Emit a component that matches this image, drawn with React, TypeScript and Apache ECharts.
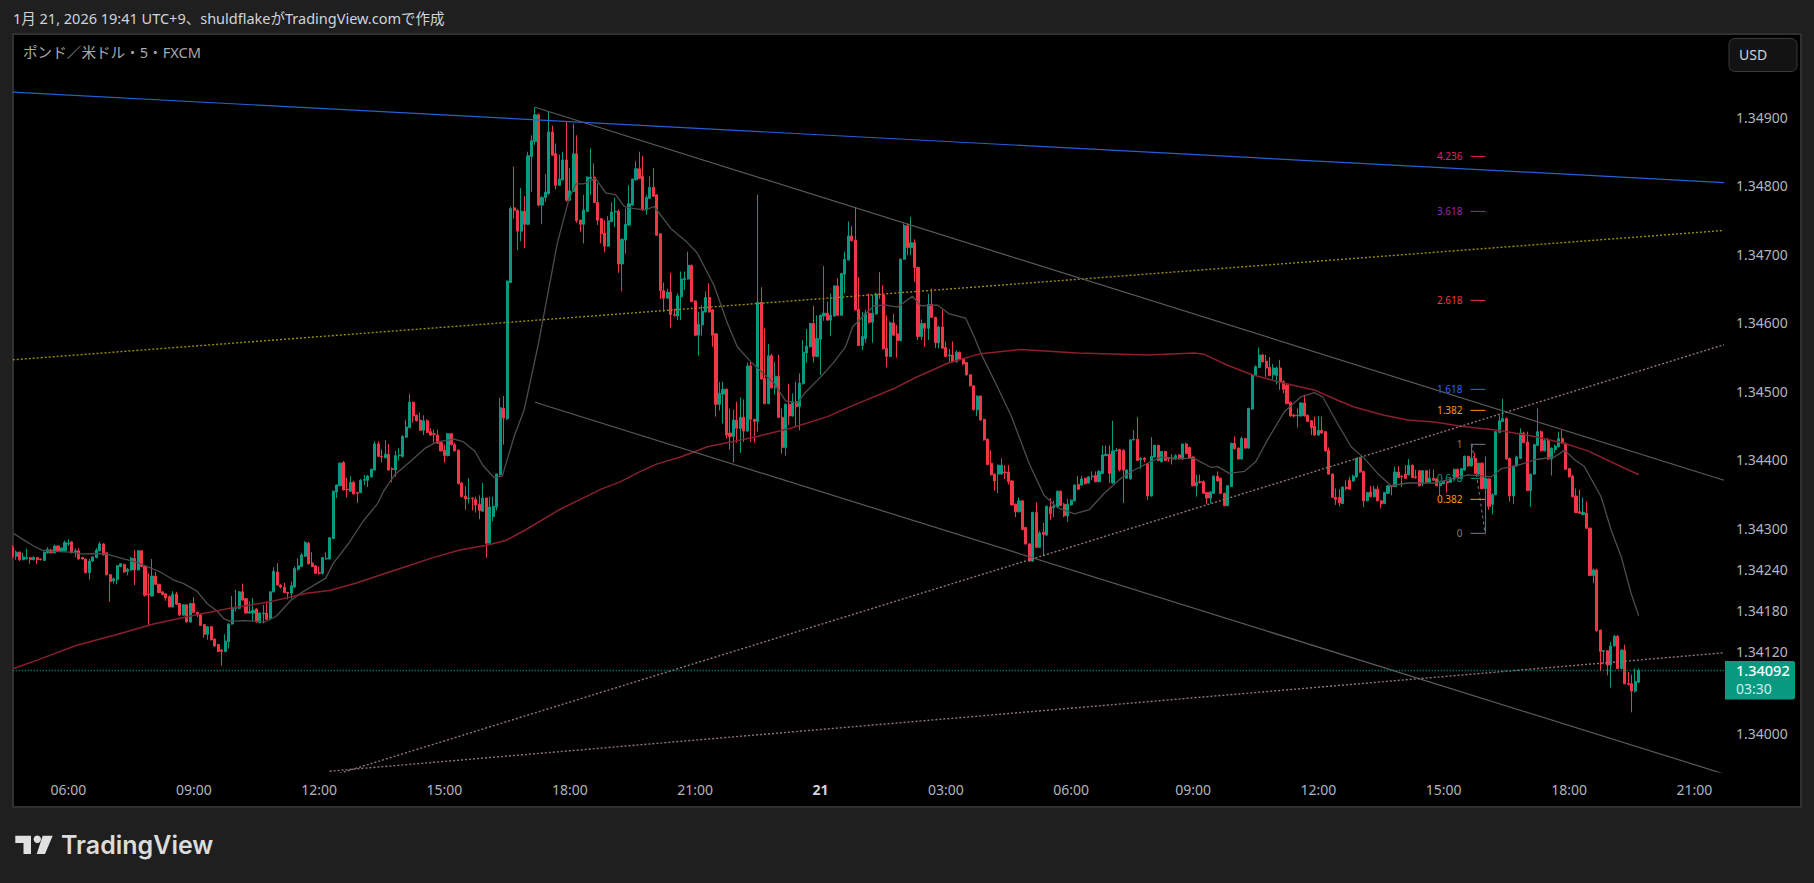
import React, { useEffect, useRef } from "react";
import * as echarts from "echarts";

// All price values are written as v, where price = 1 + v / 100000 (34092 = 1.34092).
// Candle rows: [open, close, low, high]
const ohlcEarly = [
[34272,34259,34256,34275],[34259,34265,34254,34267],[34265,34254,34252,34266],[34254,34258,34253,34264],[34255,34257,34255,34270],
[34257,34254,34248,34258],[34254,34257,34253,34259],[34257,34254,34248,34258],[34255,34254,34253,34256],[34253,34265,34252,34266],
[34264,34269,34263,34272],[34268,34264,34263,34270],[34264,34274,34263,34276],[34274,34267,34266,34275],[34266,34271,34265,34272],
[34267,34279,34265,34282],[34277,34278,34274,34284],[34280,34264,34263,34281],[34265,34267,34258,34270],[34267,34255,34254,34271],
[34257,34255,34254,34258],[34255,34235,34234,34256],[34235,34252,34225,34255],[34252,34258,34251,34259],[34257,34268,34256,34271],
[34267,34277,34266,34280],[34277,34261,34260,34278],[34264,34232,34231,34265],[34232,34222,34193,34233],[34223,34226,34219,34228],
[34225,34245,34218,34246],[34244,34248,34243,34249],[34247,34236,34235,34248],[34237,34240,34231,34242],[34239,34256,34238,34258],
[34256,34239,34217,34268],[34239,34267,34238,34268],[34267,34244,34243,34268],[34244,34202,34200,34245],[34204,34203,34157,34234],
[34201,34230,34200,34255],[34230,34218,34217,34236],[34218,34206,34205,34219],[34207,34203,34202,34208],[34204,34198,34194,34205],
[34200,34185,34184,34202],[34185,34203,34184,34208],[34204,34189,34188,34207],[34190,34173,34172,34191],[34173,34188,34172,34189],
[34188,34163,34162,34189],[34163,34190,34162,34191],[34190,34177,34176,34199],[34177,34173,34170,34178],[34174,34158,34157,34175],
[34159,34145,34140,34160],[34145,34156,34137,34157],[34156,34137,34136,34157],[34138,34128,34127,34139],[34130,34120,34119,34131],
[34122,34120,34099,34123],[34120,34135,34119,34145],[34134,34160,34124,34161],[34160,34183,34159,34201],[34183,34184,34178,34210],
[34183,34207,34182,34208],[34207,34195,34194,34219],[34197,34176,34175,34198],[34176,34178,34175,34193],[34176,34180,34164,34198],
[34182,34163,34162,34183],[34162,34176,34161,34177],[34175,34176,34161,34188],[34176,34167,34166,34193],[34168,34207,34166,34208],
];
const ohlcRally = [
[34207,34237,34206,34243],[34236,34217,34216,34249],[34217,34214,34212,34218],[34214,34206,34205,34220],[34206,34205,34196,34207],
[34205,34216,34197,34222],[34214,34241,34213,34244],[34240,34245,34238,34256],[34244,34261,34243,34264],[34259,34279,34258,34281],
[34278,34248,34247,34280],[34249,34244,34243,34265],[34245,34234,34233,34246],[34235,34234,34232,34244],[34234,34257,34232,34258],
[34255,34256,34254,34265],[34255,34286,34254,34287],[34285,34354,34284,34355],[34353,34363,34344,34364],[34362,34395,34361,34396],
[34396,34356,34355,34398],[34357,34356,34345,34374],[34354,34367,34353,34376],[34367,34350,34349,34369],[34352,34351,34337,34353],
[34352,34370,34351,34372],[34370,34371,34363,34378],[34370,34376,34360,34378],[34375,34386,34374,34387],[34385,34423,34384,34427],
[34423,34405,34404,34427],[34405,34404,34396,34415],[34403,34408,34402,34429],[34408,34385,34384,34423],[34387,34386,34367,34389],
[34385,34406,34375,34413],[34406,34407,34399,34417],[34405,34434,34403,34436],[34433,34448,34432,34458],[34447,34484,34446,34496],
[34484,34464,34454,34485],[34465,34457,34456,34466],[34458,34443,34442,34469],[34443,34457,34436,34465],[34457,34440,34439,34459],
[34441,34436,34435,34446],[34438,34437,34425,34444],[34436,34424,34423,34444],[34425,34413,34412,34426],[34414,34406,34396,34422],
[34406,34438,34405,34439],[34438,34422,34421,34439],[34422,34413,34412,34425],[34414,34365,34364,34415],[34366,34346,34345,34367],
[34347,34343,34327,34361],[34343,34344,34336,34373],[34344,34343,34326,34345],[34342,34334,34323,34346],[34335,34326,34313,34348],
[34325,34344,34324,34366],[34344,34278,34257,34345],[34278,34331,34275,34346],[34317,34332,34310,34346],[34331,34379,34326,34380],
[34378,34476,34377,34490],[34475,34461,34422,34493],[34460,34661,34458,34662],[34659,34767,34658,34770],
];
const ohlcPeak = [
[34768,34764,34752,34828],[34764,34734,34706,34766],[34734,34763,34719,34797],[34763,34744,34709,34785],[34744,34844,34743,34850],
[34843,34866,34791,34874],[34865,34904,34860,34915],[34904,34772,34770,34906],[34772,34783,34744,34785],[34783,34791,34777,34817],
[34789,34879,34787,34908],[34879,34845,34844,34888],[34847,34801,34795,34862],[34801,34810,34800,34846],[34809,34838,34808,34850],
[34838,34779,34777,34894],[34779,34793,34778,34826],[34792,34847,34791,34891],[34847,34749,34746,34874],[34750,34744,34733,34751],
[34744,34765,34716,34787],[34763,34813,34762,34814],[34811,34813,34787,34855],[34813,34776,34775,34833],[34776,34750,34743,34804],
[34752,34730,34716,34753],[34731,34712,34703,34750],[34712,34749,34711,34756],[34748,34762,34747,34776],[34762,34763,34740,34783],
[34763,34686,34673,34766],[34686,34722,34646,34723],[34721,34744,34701,34767],[34743,34774,34742,34801],[34772,34810,34771,34811],
[34809,34825,34808,34836],[34825,34811,34810,34850],[34814,34765,34764,34844],[34765,34783,34758,34787],[34782,34798,34781,34814],
[34798,34785,34784,34826],[34787,34728,34727,34788],[34730,34647,34635,34731],[34647,34636,34616,34659],[34636,34645,34635,34650],
[34645,34612,34593,34673],[34612,34611,34609,34621],[34610,34639,34604,34643],[34638,34664,34604,34675],[34663,34665,34648,34675],
[34664,34684,34663,34704],
];
const ohlcNight = [
[34684,34631,34630,34685],[34632,34582,34581,34633],[34582,34598,34552,34616],[34597,34617,34581,34626],[34616,34637,34615,34646],
[34637,34616,34615,34658],[34619,34582,34565,34620],[34584,34481,34463,34585],[34481,34497,34472,34514],[34496,34503,34453,34514],
[34503,34436,34431,34504],[34439,34434,34415,34475],[34434,34458,34396,34473],[34458,34446,34425,34485],[34446,34462,34410,34491],
[34462,34442,34426,34488],[34442,34537,34441,34542],[34537,34459,34426,34543],[34459,34456,34425,34460],[34456,34630,34441,34787],
[34630,34518,34517,34652],[34519,34482,34481,34592],[34482,34552,34481,34569],[34552,34505,34504,34555],[34505,34522,34495,34543],
[34522,34462,34461,34553],[34462,34418,34409,34475],[34418,34481,34406,34482],[34481,34464,34451,34511],[34464,34484,34463,34497],
[34485,34478,34449,34514],[34478,34512,34443,34526],[34511,34557,34510,34575],[34556,34566,34542,34591],[34565,34599,34564,34600],
[34599,34551,34542,34625],[34551,34577,34550,34611],[34576,34611,34524,34612],[34610,34614,34603,34683],[34614,34604,34603,34631],
[34604,34611,34581,34643],[34610,34654,34609,34655],[34654,34611,34610,34665],[34611,34672,34610,34673],[34671,34693,34643,34704],
[34692,34727,34691,34748],[34727,34720,34719,34741],[34721,34619,34618,34769],[34620,34567,34566,34667],[34567,34580,34560,34616],
[34577,34614,34571,34619],[34614,34601,34599,34643],[34601,34614,34571,34641],[34613,34642,34612,34644],[34642,34641,34635,34674],
[34641,34562,34561,34655],[34563,34551,34535,34611],[34551,34600,34550,34602],[34600,34582,34581,34613],[34584,34574,34549,34597],
[34574,34693,34573,34694],[34693,34742,34692,34745],[34742,34710,34699,34745],[34710,34717,34699,34755],[34717,34681,34660,34722],
[34681,34580,34575,34682],[34580,34599,34575,34605],[34599,34592,34565,34600],[34592,34627,34575,34642],[34627,34608,34607,34650],
[34608,34571,34563,34609],[34571,34594,34563,34596],[34594,34563,34562,34619],[34564,34551,34550,34573],[34552,34553,34542,34562],
[34553,34543,34542,34573],[34543,34557,34542,34560],[34557,34547,34546,34558],[34548,34540,34538,34549],
];
const ohlcDrop = [
[34542,34524,34523,34543],[34524,34508,34507,34525],[34508,34473,34472,34509],[34473,34493,34464,34494],[34493,34458,34457,34494],
[34459,34429,34428,34460],[34430,34393,34392,34431],[34395,34378,34377,34414],[34379,34369,34355,34380],[34379,34392,34351,34393],
[34379,34392,34378,34402],[34382,34381,34372,34392],[34382,34368,34364,34392],[34369,34334,34333,34370],[34335,34324,34316,34336],
[34324,34340,34323,34345],[34340,34298,34297,34341],[34301,34277,34276,34302],[34277,34252,34251,34278],[34252,34323,34251,34324],
[34323,34272,34271,34338],[34272,34293,34271,34296],[34294,34291,34259,34308],[34290,34332,34289,34333],[34331,34321,34312,34344],
[34330,34332,34316,34340],[34331,34354,34330,34355],[34354,34333,34332,34355],[34335,34318,34316,34337],[34318,34335,34309,34343],
[34334,34341,34333,34342],[34340,34363,34339,34364],[34364,34357,34356,34376],[34363,34372,34362,34376],[34373,34365,34364,34374],
[34366,34375,34365,34376],[34375,34376,34370,34383],[34377,34368,34367,34383],[34368,34383,34367,34385],[34380,34407,34379,34421],
[34406,34408,34405,34421],[34408,34380,34366,34421],[34366,34413,34365,34457],[34413,34414,34412,34417],[34415,34385,34383,34416],
[34414,34385,34337,34415],[34373,34385,34372,34386],[34372,34429,34371,34430],[34429,34430,34428,34443],[34430,34399,34398,34462],
[34400,34402,34387,34404],[34402,34400,34396,34404],[34394,34347,34341,34395],[34347,34405,34346,34433],[34404,34421,34403,34422],
[34421,34399,34398,34422],[34397,34412,34396,34413],[34412,34399,34398,34413],[34402,34401,34397,34404],[34402,34401,34393,34408],
[34401,34406,34400,34408],[34407,34401,34400,34408],[34401,34423,34400,34424],[34423,34409,34408,34425],[34418,34403,34402,34419],
[34404,34362,34361,34405],[34362,34367,34346,34378],[34368,34367,34365,34378],[34368,34351,34350,34370],[34352,34344,34335,34353],
[34344,34353,34336,34354],[34351,34376,34350,34377],[34376,34369,34368,34383],[34373,34351,34350,34374],[34351,34333,34332,34352],
[34333,34362,34332,34363],[34361,34424,34360,34425],[34424,34416,34415,34434],[34417,34401,34400,34418],[34401,34431,34400,34434],
[34431,34417,34416,34432],[34417,34475,34416,34476],[34474,34524,34473,34525],[34523,34536,34522,34538],[34535,34553,34534,34564],
[34553,34543,34542,34555],[34544,34534,34521,34553],[34535,34523,34522,34550],[34524,34534,34515,34540],[34523,34534,34510,34536],
[34534,34513,34502,34546],[34514,34503,34497,34516],[34509,34482,34481,34512],[34484,34464,34463,34485],[34465,34464,34462,34467],
[34464,34465,34447,34475],[34464,34483,34463,34484],[34483,34464,34463,34495],[34465,34456,34455,34466],[34457,34447,34436,34458],
];
const ohlcLate = [
[34449,34436,34435,34463],[34436,34443,34435,34464],[34443,34439,34438,34463],[34441,34413,34412,34442],[34414,34379,34378,34418],
[34379,34345,34344,34380],[34345,34342,34334,34358],[34345,34337,34332,34357],[34336,34360,34335,34361],[34360,34358,34355,34370],
[34370,34357,34356,34375],[34369,34376,34368,34378],[34375,34402,34374,34403],[34402,34382,34381,34404],[34383,34340,34331,34384],
[34340,34352,34339,34353],[34353,34346,34345,34362],[34346,34357,34345,34362],[34357,34340,34339,34362],[34340,34336,34329,34341],
[34336,34352,34335,34353],[34351,34362,34350,34363],[34362,34361,34348,34363],[34361,34382,34360,34390],[34382,34374,34373,34391],
[34376,34375,34360,34378],[34379,34373,34372,34392],[34378,34392,34377,34401],[34392,34374,34373,34393],[34375,34374,34372,34385],
[34384,34362,34361,34385],[34365,34384,34361,34385],[34384,34367,34366,34385],[34367,34373,34366,34386],[34373,34370,34369,34386],
[34372,34362,34361,34373],[34362,34366,34348,34367],[34365,34368,34364,34370],[34367,34366,34352,34368],[34367,34372,34366,34375],
[34372,34386,34371,34387],[34386,34374,34373,34387],[34373,34387,34372,34388],
];
const ohlcFinal = [
[34385,34405,34384,34406],[34405,34391,34390,34406],[34391,34402,34390,34423],[34402,34380,34379,34410],[34379,34395,34378,34396],
[34395,34358,34357,34396],[34358,34373,34292,34405],[34372,34332,34327,34373],[34335,34349,34320,34351],[34349,34441,34348,34442],
[34440,34457,34439,34465],[34456,34460,34455,34489],[34460,34401,34400,34462],[34402,34347,34339,34403],[34347,34391,34335,34392],
[34391,34404,34390,34406],[34402,34439,34401,34446],[34439,34425,34424,34441],[34426,34355,34354,34441],[34355,34379,34331,34380],
[34379,34422,34378,34423],[34421,34441,34420,34475],[34441,34413,34412,34443],[34413,34428,34412,34432],[34429,34401,34400,34432],
[34401,34417,34377,34418],[34415,34420,34410,34422],[34419,34431,34418,34441],[34431,34424,34423,34443],[34424,34386,34385,34425],
[34387,34375,34374,34388],[34376,34346,34345,34378],[34347,34323,34322,34358],[34324,34322,34321,34356],[34320,34323,34319,34345],
[34322,34300,34299,34339],[34300,34231,34230,34301],[34231,34239,34220,34241],[34239,34150,34149,34241],[34151,34120,34091,34152],
[34120,34121,34102,34122],[34121,34100,34085,34122],[34100,34128,34067,34134],[34128,34142,34127,34144],[34142,34095,34094,34144],
[34095,34122,34094,34123],[34122,34073,34072,34130],[34073,34072,34070,34090],[34073,34062,34031,34086],[34062,34076,34060,34095],
[34075,34092,34074,34095],
];

// Moving averages: [bar position, v]
const fastMa = [
[0.3,34292],[3.1,34283],[6,34274],[8.4,34268],[11.8,34266],[16.5,34265],[20.4,34262],[23.3,34263],[27,34262],[31.9,34255],[35.7,34250],
[39,34243],[42.4,34236],[46.3,34224],[49.1,34219],[52.9,34208],[55.8,34190],[58.7,34179],[60.6,34168],[62.5,34164],[66.4,34165],[70.2,34164],
[72.3,34163],[75.6,34171],[80,34195],[83.3,34207],[89.9,34227],[92.1,34249],[96.5,34278],[100.9,34312],[104.8,34336],[106.4,34353],
[109.7,34378],[114.1,34397],[118.5,34417],[121.8,34426],[126.8,34430],[129.5,34426],[132.8,34412],[135,34392],[138.2,34374],[140.6,34376],
[144,34434],[146.9,34473],[151,34570],[156.4,34716],[159.7,34780],[161.7,34803],[164,34803],[167.4,34811],[170.3,34790],[173.2,34787],
[175.6,34770],[178.4,34767],[181.8,34765],[184.2,34770],[189,34738],[193.4,34719],[196.6,34702],[201.4,34655],[205.3,34599],[208.1,34565],
[212,34543],[218.6,34512],[222,34486],[225.4,34483],[227.8,34499],[231.1,34516],[233.5,34529],[235.9,34543],[239.2,34565],[241.2,34594],
[244.1,34609],[247.4,34625],[250.8,34626],[254.1,34623],[258.4,34639],[260.8,34625],[265.6,34626],[269,34613],[273.7,34607],[276.1,34580],
[278.5,34551],[281.9,34516],[286.7,34465],[291.9,34395],[296.2,34348],[300.1,34330],[304.9,34321],[309.2,34327],[313.5,34351],[318.3,34373],
[322.1,34385],[326,34395],[329.8,34404],[334.6,34402],[339.3,34402],[344.1,34389],[346.1,34390],[349.4,34380],[353.7,34383],[357,34397],
[360.4,34429],[365.2,34470],[370,34492],[373.8,34498],[376.2,34492],[380.5,34453],[384.4,34419],[388.2,34402],[392,34380],[395.9,34362],
[400.7,34366],[408.4,34366],[418,34378],[424.7,34375],[427.5,34387],[431.8,34391],[437.1,34400],[442.8,34404],[445.7,34414],[448.6,34400],
[451.4,34390],[456.2,34346],[459.1,34297],[462,34258],[464.8,34205],[467,34172],
];
const slowMa = [
[0.3,34095],[7.4,34108],[18.4,34129],[29.4,34144],[40.4,34160],[51.4,34172],[62.4,34183],[73.4,34192],[84.4,34205],[91,34209],[98.7,34220],
[106.4,34233],[113,34244],[120.7,34257],[128.4,34268],[136.1,34275],[141.6,34282],[147.1,34297],[157,34327],[165.8,34349],[169,34357],
[174.6,34368],[180.3,34383],[185.1,34394],[191.8,34404],[199.5,34419],[206.2,34426],[213.9,34434],[223.4,34446],[234,34463],[240.7,34478],
[253.1,34504],[258.9,34519],[268.5,34541],[278,34555],[289.5,34561],[305.8,34556],[326,34553],[339.3,34556],[342.2,34554],[348.9,34538],
[355.6,34525],[363.3,34514],[373.8,34502],[380.5,34487],[385.3,34477],[393.9,34465],[400.7,34458],[408.3,34455],[416,34449],[426.5,34443],
[437,34434],[445.6,34424],[452.4,34413],[459,34397],[467,34378],
];

// Drawn trend lines: [bar position, v] pairs
const blueLine = [[0,34937],[491.5,34805]];
const yellowLine = [[0,34546],[491.5,34735]];
const upperChannel = [[150,34915],[491.5,34370]];
const lowerChannel = [[150,34484],[491.5,33941]];
const steepSupport = [[94,33942],[491.5,34568]];
const shallowSupport = [[91,33945],[491.5,34118]];
const lastPriceLine = [[0,34092],[491.5,34092]];
const fibTrend = [[419.1,34422.5],[422.9,34292.5]];

// Fibonacci extension
const fibZero = 34292.5;
const fibOne = 34422.5;
const fibBars = [418.7, 423];
const fibRatios = [4.236, 3.618, 2.618, 1.618, 1.382, 1, 0.618, 0.382, 0];
const fibLabels = ["4.236", "3.618", "2.618", "1.618", "1.382", "1", "0.618", "0.382", "0"];
const fibColors = ["#e91e63", "#9c27b0", "#f23645", "#2962ff", "#ff9800", "#787b86", "#089981", "#ff9800", "#787b86"];

// Axes
const barCount = 492;
const priceTicks = [34900, 34800, 34700, 34600, 34500, 34400, 34300, 34240, 34180, 34120, 34000];
const timeTickBars = [16, 52, 88, 124, 160, 196, 232, 268, 304, 339, 375, 411, 447, 483];
const timeTickLabels = ["06:00", "09:00", "12:00", "15:00", "18:00", "21:00", "21", "03:00", "06:00", "09:00", "12:00", "15:00", "18:00", "21:00"];
const headerText = "1月 21, 2026 19:41 UTC+9、shuldflakeがTradingView.comで作成";
const symbolText = "ポンド／米ドル・5・FXCM";
const lastPriceText = "1.34092";
const countdownText = "03:30";

const toPrice = (v: number) => 1 + v / 100000;
const linePts = (rows: number[][]) => rows.map(([x, v]) => [x, toPrice(v)]);

const FONT = '"Noto Sans", "Noto Sans CJK JP", sans-serif';
const PAGE = "#1f1f1f";

function lineSeries(data: number[][], color: string, width: number, type: any, z: number) {
  return {
    type: "line",
    xAxisIndex: 1,
    yAxisIndex: 0,
    data: linePts(data),
    showSymbol: false,
    symbol: "none",
    silent: true,
    z,
    lineStyle: { color, width, type },
  };
}

export default function App() {
  const ref = useRef<HTMLDivElement>(null);
  useEffect(() => {
    document.body.style.margin = "0";
    document.body.style.background = PAGE;
    const chart = echarts.init(ref.current!, undefined, { renderer: "svg" });
    const rows = [...ohlcEarly, ...ohlcRally, ...ohlcPeak, ...ohlcNight, ...ohlcDrop, ...ohlcLate, ...ohlcFinal];
    const categories = Array.from({ length: barCount }, (_, i) => String(i));
    const labelAt = new Map(timeTickBars.map((b, i) => [b, timeTickLabels[i]]));
    chart.setOption({
      animation: false,
      backgroundColor: PAGE,
      grid: { left: 11, top: 34, width: 1713, height: 738, containLabel: false },
      xAxis: [
        {
          type: "category",
          data: categories,
          boundaryGap: true,
          axisLine: { show: false },
          axisTick: { show: false },
          splitLine: { show: false },
          axisLabel: {
            color: "#b2b5be",
            fontFamily: FONT,
            fontSize: 14,
            margin: 10,
            interval: (i: number) => labelAt.has(i),
            formatter: (_v: string, i: number) => {
              const t = labelAt.get(i) ?? "";
              return t === "21" ? `{bold|${t}}` : t;
            },
            rich: { bold: { fontWeight: 700, color: "#d1d4dc", fontFamily: FONT, fontSize: 14 } },
          },
        },
        { type: "value", min: -0.5, max: barCount - 0.5, show: false, splitLine: { show: false } },
      ],
      yAxis: {
        type: "value",
        position: "right",
        min: toPrice(33943.8),
        max: toPrice(35022),
        splitLine: { show: false },
        axisLine: { show: false },
        axisTick: { show: false },
        axisLabel: {
          color: "#b2b5be",
          fontFamily: FONT,
          fontSize: 14,
          margin: 12,
          customValues: priceTicks.map(toPrice),
          formatter: (v: number) => v.toFixed(5),
        },
      },
      series: [
        {
          type: "custom",
          xAxisIndex: 1,
          yAxisIndex: 0,
          z: 1,
          silent: true,
          data: fibRatios.map((r) => [fibBars[0], toPrice(fibZero + r * (fibOne - fibZero)), fibBars[1]]),
          renderItem: (params: any, api: any) => {
            const a = api.coord([api.value(0), api.value(1)]);
            const b = api.coord([api.value(2), api.value(1)]);
            const color = fibColors[params.dataIndex];
            return {
              type: "group",
              children: [
                { type: "line", shape: { x1: a[0], y1: a[1], x2: b[0], y2: b[1] }, style: { stroke: color, lineWidth: 1 } },
                {
                  type: "text",
                  style: {
                    x: a[0] - 8,
                    y: a[1],
                    text: fibLabels[params.dataIndex],
                    fill: color,
                    font: `10px ${FONT}`,
                    align: "right",
                    verticalAlign: "middle",
                  },
                },
              ],
            };
          },
        },
        {
          type: "candlestick",
          xAxisIndex: 0,
          yAxisIndex: 0,
          z: 2,
          barWidth: 2.6,
          silent: true,
          progressive: 0,
          clip: true,
          data: rows.map((r) => r.map(toPrice)),
          itemStyle: {
            color: "#089981",
            color0: "#f23645",
            borderColor: "#089981",
            borderColor0: "#f23645",
            borderColorDoji: "#089981",
            borderWidth: 1,
          },
        },
        lineSeries(fastMa, "#4d4d4d", 1.3, "solid", 3),
        lineSeries(slowMa, "#8a1f2d", 1.5, "solid", 3),
        lineSeries(blueLine, "#2560d8", 1.2, "solid", 3),
        lineSeries(yellowLine, "#9c8c10", 1.4, [2, 2], 3),
        lineSeries(upperChannel, "#5a5a5a", 1.2, "solid", 3),
        lineSeries(lowerChannel, "#5a5a5a", 1.2, "solid", 3),
        lineSeries(steepSupport, "#8f757e", 1.4, [2, 2], 3),
        lineSeries(shallowSupport, "#8f757e", 1.4, [2, 2], 3),
        lineSeries(lastPriceLine, "#089981", 1.5, [1, 2], 3),
        lineSeries(fibTrend, "#787b86", 1, [3, 3], 1),
      ],
      graphic: [
        { type: "rect", z: -10, silent: true, shape: { x: 13, y: 34, width: 1788, height: 773 }, style: { fill: "#000", stroke: "#303030", lineWidth: 2 } },
        { type: "rect", z: 100, silent: true, shape: { x: 0, y: 33, width: 12, height: 775 }, style: { fill: PAGE } },
        { type: "text", z: 100, x: 13, y: 11, silent: true, style: { text: headerText, fill: "#d1d4dc", font: `14.5px ${FONT}` } },
        { type: "text", z: 100, x: 23, y: 45, silent: true, style: { text: symbolText, fill: "#a8a8a8", font: `14.6px ${FONT}` } },
        { type: "rect", z: 100, silent: true, shape: { x: 1729, y: 38.5, width: 68, height: 33, r: 6 }, style: { fill: "#131313", stroke: "#3a3a3a", lineWidth: 1 } },
        { type: "text", z: 101, x: 1739, y: 47, silent: true, style: { text: "USD", fill: "#d1d4dc", font: `14px ${FONT}` } },
        { type: "rect", z: 100, silent: true, shape: { x: 1725, y: 661, width: 70, height: 38.5, r: [0, 2, 2, 0] }, style: { fill: "#089981" } },
        { type: "text", z: 101, x: 1736, y: 663, silent: true, style: { text: lastPriceText, fill: "#ffffff", font: `500 14.5px ${FONT}` } },
        { type: "text", z: 101, x: 1736, y: 681, silent: true, style: { text: countdownText, fill: "#cfeee8", font: `14px ${FONT}` } },
        { type: "polygon", z: 100, silent: true, shape: { points: [[15.3, 835.7], [31, 835.7], [31, 854], [23.5, 854], [23.5, 843], [15.3, 843]] }, style: { fill: "#e0e0e0" } },
        { type: "circle", z: 100, silent: true, shape: { cx: 37.3, cy: 839.3, r: 3.7 }, style: { fill: "#e0e0e0" } },
        { type: "polygon", z: 100, silent: true, shape: { points: [[42.7, 835.7], [52.7, 835.7], [45, 854], [36.7, 854]] }, style: { fill: "#e0e0e0" } },
        { type: "text", z: 100, x: 61, y: 832, silent: true, style: { text: "TradingView", fill: "#dcdcdc", font: `600 25px Inter, ${FONT}` } },
      ],
    });
    return () => chart.dispose();
  }, []);
  return <div ref={ref} style={{ position: "absolute", left: 0, top: 0, width: 1814, height: 883 }} />;
}
